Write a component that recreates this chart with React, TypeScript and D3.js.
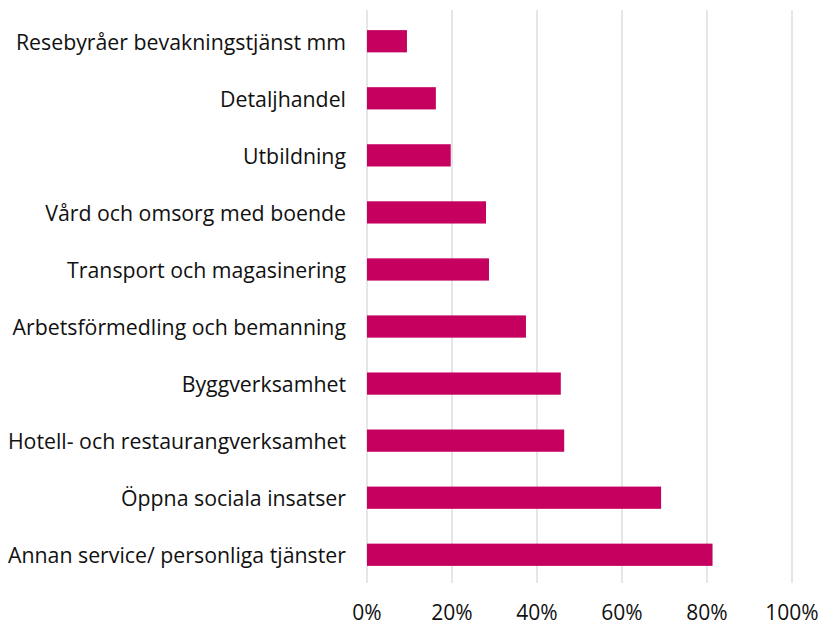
import React from "react";
import * as d3 from "d3";

const categories = [
  "Resebyråer bevakningstjänst mm",
  "Detaljhandel",
  "Utbildning",
  "Vård och omsorg med boende",
  "Transport och magasinering",
  "Arbetsförmedling och bemanning",
  "Byggverksamhet",
  "Hotell- och restaurangverksamhet",
  "Öppna sociala insatser",
  "Annan service/ personliga tjänster",
];
const values = [0.094, 0.162, 0.197, 0.28, 0.287, 0.374, 0.456, 0.464, 0.692, 0.813];
const ticks = [0, 0.2, 0.4, 0.6, 0.8, 1];

const width = 823;
const height = 625;
const margins = { top: 13, right: 31, bottom: 42, left: 367 };
const font = "'Open Sans', sans-serif";

export default function App() {
  const xScale = d3
    .scaleLinear()
    .domain([0, 1])
    .range([margins.left, width - margins.right]);

  const yScale = d3
    .scaleBand()
    .domain(categories)
    .range([margins.top, height - margins.bottom])
    .paddingInner(0.61)
    .paddingOuter(0.3);

  return (
    <svg
      width={width}
      height={height}
      style={{ position: "absolute", left: 0, top: 0, background: "#fff" }}
    >
      {/* gridlines */}
      {ticks.map((t) => (
        <line
          key={t}
          x1={xScale(t)}
          x2={xScale(t)}
          y1={10}
          y2={height - margins.bottom}
          stroke="#d9d9d9"
          strokeWidth={1.3}
        />
      ))}
      {/* bars */}
      {categories.map((c, i) => (
        <rect
          key={c}
          x={xScale(0)}
          y={yScale(c)}
          width={xScale(values[i]) - xScale(0)}
          height={yScale.bandwidth()}
          fill="#c5005f"
        />
      ))}
      {/* category labels */}
      {categories.map((c) => (
        <text
          key={c}
          x={margins.left - 21}
          y={(yScale(c) ?? 0) + yScale.bandwidth() / 2}
          textAnchor="end"
          dominantBaseline="central"
          fontFamily={font}
          fontSize={21.3}
          fill="#111"
        >
          {c}
        </text>
      ))}
      {/* x axis labels */}
      {ticks.map((t) => (
        <text
          key={t}
          x={xScale(t)}
          y={612}
          textAnchor="middle"
          dominantBaseline="central"
          fontFamily={font}
          fontSize={21}
          fill="#111"
        >
          {d3.format(".0%")(t)}
        </text>
      ))}
    </svg>
  );
}
